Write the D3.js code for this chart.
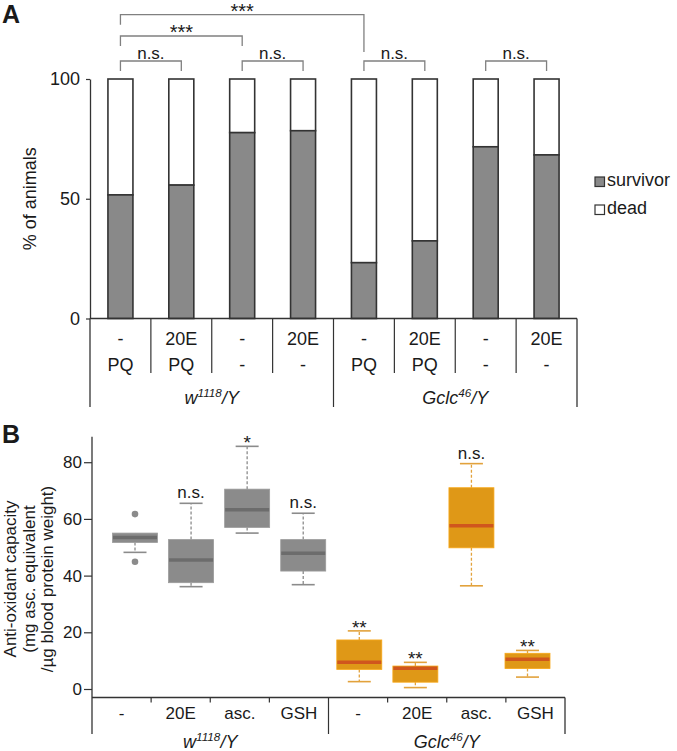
<!DOCTYPE html>
<html>
<head>
<meta charset="utf-8">
<script src="https://cdn.jsdelivr.net/npm/d3@7"></script>
<style>
  html, body { margin: 0; padding: 0; background: #fff; }
  svg { display: block; font-family: "Liberation Sans", Arial, sans-serif; }
</style>
</head>
<body>
<svg id="chart" width="677" height="751"></svg>
<script>
// ---------------- DATA ----------------
// Panel A
const treatmentA = ["-", "20E", "-", "20E", "-", "20E", "-", "20E"];
const stressA = ["PQ", "PQ", "-", "-", "PQ", "PQ", "-", "-"];
const genotypeOfA = [0, 0, 0, 0, 1, 1, 1, 1];
const genotypes = [
  { base: "w", sup: "1118", rest: "/Y" },
  { base: "Gclc", sup: "46", rest: "/Y" }
];
const survivorPct = [51.6, 55.7, 77.6, 78.4, 23.3, 32.4, 71.7, 68.3];
const deadPct = [48.4, 44.3, 22.4, 21.6, 76.7, 67.6, 28.3, 31.7];
const yTicksA = [0, 50, 100];
const legendLabels = ["survivor", "dead"];
const bracketFrom = [0, 2, 4, 6, 0, 0];
const bracketTo = [1, 3, 5, 7, 2, 4];
const bracketLevel = [0, 0, 0, 0, 1, 2];
const bracketLabel = ["n.s.", "n.s.", "n.s.", "n.s.", "***", "***"];

// Panel B
const treatmentB = ["-", "20E", "asc.", "GSH", "-", "20E", "asc.", "GSH"];
const genotypeOfB = [0, 0, 0, 0, 1, 1, 1, 1];
const whiskerLow = [48.2, 36.1, 55.0, 36.8, 2.6, 0.5, 36.4, 4.2];
const q1 = [51.7, 37.5, 57.0, 41.6, 6.9, 2.4, 49.8, 7.2];
const medianB = [53.4, 45.5, 63.2, 47.9, 9.4, 7.3, 57.6, 10.5];
const q3 = [55.0, 52.7, 70.5, 52.7, 17.3, 8.1, 71.0, 12.6];
const whiskerHigh = [55.0, 65.5, 85.6, 62.0, 20.5, 9.4, 79.5, 13.6];
const outliersB = [[61.7, 44.9], [], [], [], [], [], [], []];
const signifB = ["", "n.s.", "*", "n.s.", "**", "**", "n.s.", "**"];
const yTicksB = [0, 20, 40, 60, 80];
const yLabelB = ["Anti-oxidant capacity", "(mg asc. equivalent", "/\u00b5g blood protein weight)"];

// ---------------- DRAW ----------------
const svg = d3.select("#chart");
const txt = "#1a1a1a";

// ===== Panel A =====
svg.append("text").attr("x", 2).attr("y", 23).attr("font-size", 25).attr("font-weight", "bold")
  .attr("fill", txt).text("A");

const idxA = d3.range(treatmentA.length);
const xA = d3.scaleBand().domain(idxA).range([90, 577]).paddingInner(0).paddingOuter(0);
const yA = d3.scaleLinear().domain([0, 100]).range([318.5, 79]);
const barW = 25;

const gA = svg.append("g");
const axA = gA.append("g").attr("transform", "translate(90,0)")
  .call(d3.axisLeft(yA).tickValues(yTicksA).tickSize(4).tickSizeOuter(0).tickPadding(6));
axA.select(".domain").attr("stroke", "#333").attr("stroke-width", 1.3);
axA.selectAll(".tick line").attr("stroke", "#333").attr("stroke-width", 1.2);
axA.selectAll(".tick text").attr("font-size", 18).attr("fill", txt)
  .attr("font-family", "Liberation Sans, Arial, sans-serif");

gA.append("text").attr("transform", "translate(36," + ((yA(0) + yA(100)) / 2) + ") rotate(-90)")
  .attr("text-anchor", "middle").attr("font-size", 18).attr("fill", txt).text("% of animals");

const stackA = idxA.map(i => ({ i, s: survivorPct[i], d: deadPct[i] }));
gA.selectAll("rect.dead").data(stackA).join("rect").attr("class", "dead")
  .attr("x", d => xA(d.i) + xA.bandwidth() / 2 - barW / 2).attr("width", barW)
  .attr("y", d => yA(d.s + d.d)).attr("height", d => yA(d.s) - yA(d.s + d.d))
  .attr("fill", "#fff").attr("stroke", "#333").attr("stroke-width", 1.6);
gA.selectAll("rect.surv").data(stackA).join("rect").attr("class", "surv")
  .attr("x", d => xA(d.i) + xA.bandwidth() / 2 - barW / 2).attr("width", barW)
  .attr("y", d => yA(d.s)).attr("height", d => yA(0) - yA(d.s))
  .attr("fill", "#898989").attr("stroke", "#333").attr("stroke-width", 1.6);

const tblTopA = yA(0), rowLineA = 373, tblBotA = 407;
gA.append("line").attr("x1", 90).attr("x2", 577).attr("y1", tblTopA).attr("y2", tblTopA)
  .attr("stroke", "#333").attr("stroke-width", 1.3);
idxA.forEach(i => {
  if (i === 0) return;
  const x = xA(i);
  const isGroup = genotypeOfA[i] !== genotypeOfA[i - 1];
  gA.append("line").attr("x1", x).attr("x2", x).attr("y1", tblTopA).attr("y2", isGroup ? tblBotA : rowLineA)
    .attr("stroke", "#333").attr("stroke-width", 1.2);
});
[90, 577].forEach(x => gA.append("line").attr("x1", x).attr("x2", x).attr("y1", tblTopA).attr("y2", tblBotA)
  .attr("stroke", "#333").attr("stroke-width", 1.3));
gA.selectAll("text.trt").data(idxA).join("text").attr("class", "trt")
  .attr("x", i => xA(i) + xA.bandwidth() / 2).attr("y", 345).attr("text-anchor", "middle")
  .attr("font-size", 18).attr("fill", txt).text(i => treatmentA[i]);
gA.selectAll("text.str").data(idxA).join("text").attr("class", "str")
  .attr("x", i => xA(i) + xA.bandwidth() / 2).attr("y", 371).attr("text-anchor", "middle")
  .attr("font-size", 18).attr("fill", txt).text(i => stressA[i]);

function genoLabel(g, cx, y, geno, fs) {
  const t = g.append("text").attr("x", cx).attr("y", y).attr("text-anchor", "middle")
    .attr("font-size", fs).attr("font-style", "italic").attr("fill", txt);
  t.append("tspan").text(geno.base);
  t.append("tspan").attr("dy", -7).attr("font-size", fs * 0.65).text(geno.sup);
  t.append("tspan").attr("dy", 7).text(geno.rest);
}
genotypes.forEach((geno, gi) => {
  const cats = idxA.filter(i => genotypeOfA[i] === gi);
  const x0 = xA(cats[0]), x1 = xA(cats[cats.length - 1]) + xA.bandwidth();
  genoLabel(gA, (x0 + x1) / 2, 404, geno, 18);
});

// brackets
const levelY = [61, 36, 14.7];
const cxA = i => xA(i) + xA.bandwidth() / 2;
const endpointsAt = (cat, lvl) => bracketFrom.some((f, k) => bracketLevel[k] === lvl && (f === cat || bracketTo[k] === cat));
function legBottom(cat, lvl) {
  if (lvl === 0 || endpointsAt(cat, lvl - 1)) return levelY[lvl] + 10;
  for (let l = lvl - 1; l >= 0; l--) if (endpointsAt(cat, l)) return levelY[l] - 9;
  return levelY[lvl] + 10;
}
bracketFrom.forEach((f, k) => {
  const t = bracketTo[k], lvl = bracketLevel[k], y = levelY[lvl];
  const xa = cxA(f), xb = cxA(t);
  gA.append("path")
    .attr("d", `M${xa},${legBottom(f, lvl)}V${y}H${xb}V${legBottom(t, lvl)}`)
    .attr("fill", "none").attr("stroke", "#808080").attr("stroke-width", 1.3);
  const star = bracketLabel[k].startsWith("*");
  gA.append("text").attr("x", (xa + xb) / 2).attr("y", star ? y + 3 : y - 2).attr("text-anchor", "middle")
    .attr("font-size", star ? 20 : 17).attr("fill", txt).text(bracketLabel[k]);
});

// legend
const legFill = ["#898989", "#fff"];
legendLabels.forEach((lab, k) => {
  const y0 = 177 + k * 28;
  gA.append("rect").attr("x", 595).attr("y", y0).attr("width", 9.5).attr("height", 9.5)
    .attr("fill", legFill[k]).attr("stroke", "#333").attr("stroke-width", 1.2);
  gA.append("text").attr("x", 607).attr("y", y0 + 8.5).attr("font-size", 18).attr("fill", txt).text(lab);
});

// ===== Panel B =====
svg.append("text").attr("x", 2).attr("y", 443).attr("font-size", 25).attr("font-weight", "bold")
  .attr("fill", txt).text("B");

const idxB = d3.range(treatmentB.length);
const xB = d3.scaleBand().domain(idxB).range([92, 565]);
const xBox = d3.scalePoint().domain(idxB).range([135, 527.5]);
const yB = d3.scaleLinear().domain([-3, 89]).range([697.5, 436.7]);
const boxW = 45, capW = 23;
const gB = svg.append("g");

const axB = gB.append("g").attr("transform", "translate(92,0)")
  .call(d3.axisLeft(yB).tickValues(yTicksB).tickSize(8).tickSizeOuter(0).tickPadding(2));
axB.select(".domain").remove();
axB.selectAll(".tick line").attr("stroke", "#333").attr("stroke-width", 1.2);
axB.selectAll(".tick text").attr("font-size", 17).attr("fill", txt)
  .attr("font-family", "Liberation Sans, Arial, sans-serif");

const tblTopB = yB(-3), tblBotB = 734;
gB.append("line").attr("x1", 92).attr("x2", 92).attr("y1", yB(89)).attr("y2", tblBotB)
  .attr("stroke", "#333").attr("stroke-width", 1.3);
gB.append("line").attr("x1", 92).attr("x2", 565).attr("y1", tblTopB).attr("y2", tblTopB)
  .attr("stroke", "#333").attr("stroke-width", 1.3);
idxB.forEach(i => {
  if (i === 0) return;
  const x = xB(i);
  const isGroup = genotypeOfB[i] !== genotypeOfB[i - 1];
  gB.append("line").attr("x1", x).attr("x2", x).attr("y1", tblTopB).attr("y2", isGroup ? tblBotB : tblTopB + 5)
    .attr("stroke", "#333").attr("stroke-width", 1.2);
});
gB.append("line").attr("x1", 565).attr("x2", 565).attr("y1", tblTopB).attr("y2", tblBotB)
  .attr("stroke", "#333").attr("stroke-width", 1.3);
gB.selectAll("text.trtB").data(idxB).join("text").attr("class", "trtB")
  .attr("x", i => xB(i) + xB.bandwidth() / 2).attr("y", 719).attr("text-anchor", "middle")
  .attr("font-size", 17).attr("fill", txt).text(i => treatmentB[i]);
genotypes.forEach((geno, gi) => {
  const cats = idxB.filter(i => genotypeOfB[i] === gi);
  const x0 = xB(cats[0]), x1 = xB(cats[cats.length - 1]) + xB.bandwidth();
  genoLabel(gB, (x0 + x1) / 2, 748, geno, 18);
});

yLabelB.forEach((line, k) => {
  gB.append("text").attr("transform", `translate(${16 + k * 18.5},579) rotate(-90)`)
    .attr("text-anchor", "middle").attr("font-size", 17).attr("fill", txt).text(line);
});

const palette = [
  { fill: "#8b8b8b", med: "#6c6c6c", wh: "#8b8b8b" },
  { fill: "#df9817", med: "#d0561d", wh: "#e2a23c" }
];
idxB.forEach(i => {
  const c = palette[genotypeOfB[i]];
  const cx = xBox(i);
  const g = gB.append("g");
  g.append("line").attr("x1", cx).attr("x2", cx).attr("y1", yB(q3[i])).attr("y2", yB(whiskerHigh[i]))
    .attr("stroke", c.wh).attr("stroke-width", 1.3).attr("stroke-dasharray", "3,2");
  g.append("line").attr("x1", cx).attr("x2", cx).attr("y1", yB(q1[i])).attr("y2", yB(whiskerLow[i]))
    .attr("stroke", c.wh).attr("stroke-width", 1.3).attr("stroke-dasharray", "3,2");
  if (whiskerHigh[i] > q3[i])
    g.append("line").attr("x1", cx - capW / 2).attr("x2", cx + capW / 2).attr("y1", yB(whiskerHigh[i])).attr("y2", yB(whiskerHigh[i]))
      .attr("stroke", c.wh).attr("stroke-width", 1.6);
  g.append("line").attr("x1", cx - capW / 2).attr("x2", cx + capW / 2).attr("y1", yB(whiskerLow[i])).attr("y2", yB(whiskerLow[i]))
    .attr("stroke", c.wh).attr("stroke-width", 1.6);
  g.append("rect").attr("x", cx - boxW / 2).attr("width", boxW)
    .attr("y", yB(q3[i])).attr("height", yB(q1[i]) - yB(q3[i]))
    .attr("fill", c.fill).attr("stroke", d3.color(c.fill).brighter(0.3)).attr("stroke-width", 0.8);
  g.append("line").attr("x1", cx - boxW / 2 + 0.5).attr("x2", cx + boxW / 2 - 0.5)
    .attr("y1", yB(medianB[i])).attr("y2", yB(medianB[i]))
    .attr("stroke", c.med).attr("stroke-width", 3.5);
  outliersB[i].forEach(v => g.append("circle").attr("cx", cx).attr("cy", yB(v)).attr("r", 3.3).attr("fill", c.fill));
  if (signifB[i]) {
    const star = signifB[i].startsWith("*");
    g.append("text").attr("x", cx).attr("y", star ? yB(whiskerHigh[i]) + 3 : yB(whiskerHigh[i]) - 5)
      .attr("text-anchor", "middle").attr("font-size", star ? 19 : 17).attr("fill", txt).text(signifB[i]);
  }
});
</script>
</body>
</html>
